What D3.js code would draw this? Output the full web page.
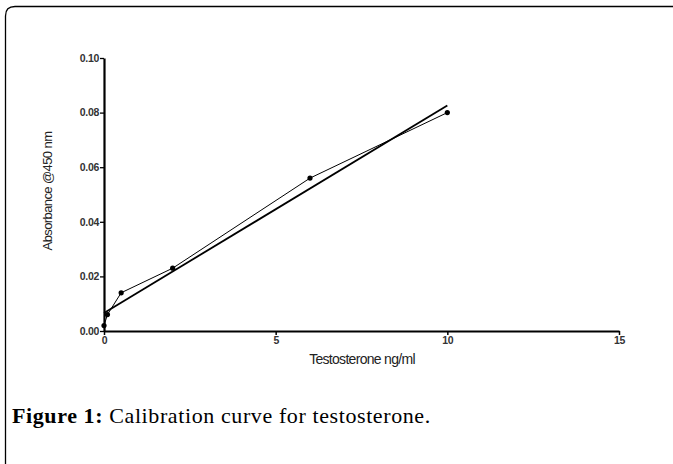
<!DOCTYPE html>
<html><head><meta charset="utf-8">
<script src="https://cdn.jsdelivr.net/npm/d3@7"></script>
<style>body{margin:0;background:#fff}svg{display:block}</style>
</head><body>
<svg id="c" width="673" height="464"></svg>
<script>
const concX = [0, 0.1, 0.5, 2, 6, 10];
const absY = [0.002, 0.006, 0.014, 0.023, 0.056, 0.080];
const fitX = [0, 10];
const fitY = [0.0066, 0.0826];
const xTicks = [0, 5, 10, 15];
const yTicks = [0, 0.02, 0.04, 0.06, 0.08, 0.10];

const svg = d3.select("#c");
// frame
svg.append("path").attr("d","M5.5,464 L5.5,16 Q5.5,6.5 15,6.5 L673,6.5")
  .attr("fill","none").attr("stroke","#000").attr("stroke-width",1.3);

const x = d3.scaleLinear().domain([0,15]).range([104,619]);
const y = d3.scaleLinear().domain([0,0.10]).range([331,58]);

const tickFont = "Liberation Sans, Arial, sans-serif";
const yAxis = svg.append("g").attr("transform","translate(104,0)")
  .call(d3.axisLeft(y).tickValues(yTicks).tickFormat(d3.format(".2f")).tickSize(4).tickSizeOuter(0));
yAxis.select(".domain").attr("stroke-width",2.2);
yAxis.selectAll(".tick line").attr("stroke-width",1.3);
yAxis.selectAll("text").attr("font-family",tickFont).attr("font-size","10.5px").attr("font-weight","bold")
  .attr("letter-spacing","-0.3").attr("fill","#333").attr("x",-5);

const xAxis = svg.append("g").attr("transform","translate(0,331)")
  .call(d3.axisBottom(x).tickValues(xTicks).tickFormat(d3.format("d")).tickSize(4).tickSizeOuter(0));
xAxis.select(".domain").attr("stroke-width",1.8);
xAxis.selectAll(".tick line").attr("stroke-width",1.5);
xAxis.selectAll("text").attr("font-family",tickFont).attr("font-size","10.5px").attr("font-weight","bold")
  .attr("letter-spacing","-0.3").attr("fill","#333").attr("y",6);

svg.append("text").attr("transform","translate(52,191) rotate(-90)")
  .attr("text-anchor","middle").attr("font-family",tickFont).attr("font-size","13px")
  .attr("letter-spacing","-0.6").attr("fill","#222").text("Absorbance @450 nm");
svg.append("text").attr("x",362).attr("y",364)
  .attr("text-anchor","middle").attr("font-family",tickFont).attr("font-size","14px")
  .attr("letter-spacing","-0.7").attr("fill","#222").text("Testosterone ng/ml");

const pts = concX.map((v,i)=>[v,absY[i]]);
const line = d3.line().x(d=>x(d[0])).y(d=>y(d[1]));
svg.append("path").datum(fitX.map((v,i)=>[v,fitY[i]])).attr("d",line)
  .attr("fill","none").attr("stroke","#000").attr("stroke-width",1.8);
svg.append("path").datum(pts).attr("d",line)
  .attr("fill","none").attr("stroke","#000").attr("stroke-width",1);
svg.selectAll("circle.pt").data(pts).enter().append("circle").attr("class","pt")
  .attr("cx",d=>x(d[0])).attr("cy",d=>y(d[1])).attr("r",2.6).attr("fill","#000");

const cap = svg.append("text").attr("x",12).attr("y",423)
  .attr("font-family","Liberation Serif, Times New Roman, serif").attr("font-size","22px")
  .attr("letter-spacing","0.6").attr("fill","#000");
cap.append("tspan").attr("font-weight","bold").text("Figure 1:");
cap.append("tspan").text(" Calibration curve for testosterone.");
</script>
</body></html>
